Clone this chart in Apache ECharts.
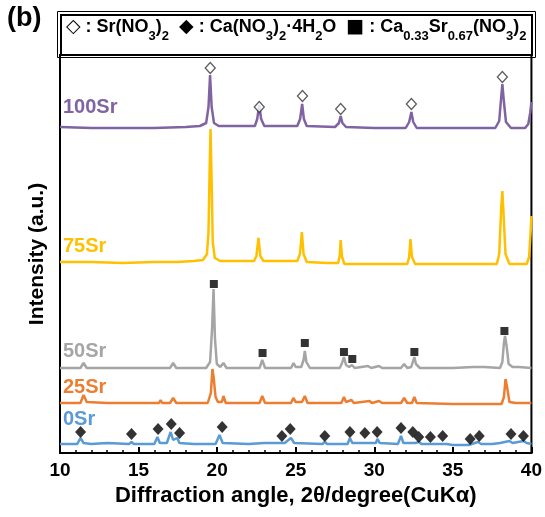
<!DOCTYPE html>
<html><head><meta charset="utf-8">
<script src="https://cdn.jsdelivr.net/npm/echarts@6/dist/echarts.min.js"></script>
<style>html,body{margin:0;padding:0;background:#fff}#c{width:545px;height:517px}</style>
</head><body><div id="c"></div>
<script>
// ---- data ----
const xTicks = [10, 15, 20, 25, 30, 35, 40];
const sampleNames = ['0Sr', '25Sr', '50Sr', '75Sr', '100Sr'];
const sampleColors = ['#5B9BD5', '#ED7D31', '#A5A5A5', '#FFC000', '#8064A2'];
const baselines = [9, 50, 85, 191, 326];

// [2theta, intensity above baseline]
const xrd0Sr = [[10,0],[11.1,0],[11.3,6],[11.5,1],[12,0],[13,1],[14.4,0],[14.55,2],[14.7,0],[15.4,0],[15.5,2],[15.6,0],[16.0,0],[16.2,7],[16.35,1],[16.8,1],[17.04,12],[17.2,4],[17.46,6],[17.6,1],[18.5,0],[19.9,0],[20.15,9],[20.35,1],[22,0],[23,1],[24,1],[24.1,2],[24.3,1],[24.7,6],[24.9,1],[26.7,0],[26.85,2],[27,0],[28.3,0],[28.45,6],[28.6,1],[29.3,1],[29.4,3],[29.55,1],[30.1,1],[30.2,5],[30.35,1],[31.5,0],[31.7,8],[31.85,1],[32.35,1],[32.45,3],[32.6,1],[32.85,2],[33.0,0],[33.5,0],[33.6,1],[33.8,0],[34.3,0],[34.4,2],[34.6,0],[35,-1],[36,-1],[36.2,0],[36.6,2],[36.8,0],[37.5,0],[38.0,1],[38.6,3],[38.8,1],[39.5,3],[39.7,1],[40,0]];
const xrd25Sr = [[10,0],[11.3,0],[11.5,8],[11.7,1],[13,0],[14.5,0],[16.3,0],[16.4,3],[16.5,0],[17.0,0],[17.2,5],[17.4,0],[19.4,0],[19.6,10],[19.7,34],[19.78,25],[19.9,6],[20.05,1],[20.3,1],[20.4,7],[20.55,0],[22.7,0],[22.87,7],[23.05,0],[24.7,0],[24.85,5],[25.0,1],[25.4,1],[25.58,7],[25.75,0],[27.9,0],[28.07,6],[28.2,1],[28.55,3],[28.7,0],[29.7,2],[29.85,0],[30.3,2],[30.5,0],[31.7,0],[31.9,5],[32.1,0],[32.4,0],[32.55,6],[32.7,0],[35,-1],[37,-1],[38.1,-1],[38.25,6],[38.35,24],[38.45,16],[38.6,1],[39,0],[40,0]];
const xrd50Sr = [[10,0],[11.3,0],[11.5,5],[11.7,0],[13,0],[15,0],[16.3,0],[16.4,2],[16.5,0],[17.0,0],[17.2,5],[17.4,0],[19.3,0],[19.55,6],[19.68,40],[19.77,79],[19.86,30],[19.98,4],[20.2,1],[20.4,5],[20.6,0],[22.7,0],[22.87,8],[23.05,0],[24.7,0],[24.86,5],[25.0,1],[25.35,1],[25.5,8],[25.58,17],[25.68,6],[25.9,0],[27.8,0],[27.95,5],[28.07,11],[28.2,3],[28.4,1],[28.58,3],[28.75,0],[29.6,2],[29.8,0],[30.3,2],[30.5,0],[31.7,0],[31.9,4],[32.1,0],[32.35,1],[32.47,7],[32.55,11],[32.65,4],[32.9,0],[35,0],[36.3,1],[37,1],[38.0,0],[38.15,6],[38.25,25],[38.32,32],[38.42,22],[38.55,4],[38.8,1],[39.2,1],[40,0]];
const xrd75Sr = [[10,0],[12,0],[14,-1],[16,0],[17.5,0],[18.5,1],[19.1,2],[19.35,8],[19.45,30],[19.52,90],[19.58,133],[19.65,80],[19.72,20],[19.85,4],[20.2,1],[21,1],[22.35,1],[22.5,6],[22.63,24],[22.75,6],[22.95,1],[24,1],[25.1,1],[25.27,8],[25.39,30],[25.5,8],[25.7,0],[27,-1],[27.7,-1],[27.8,6],[27.86,22],[27.95,5],[28.1,-2],[30,-2],[32.1,-2],[32.22,5],[32.3,23],[32.4,5],[32.6,-2],[35,-2],[37.8,-2],[37.95,8],[38.08,55],[38.15,71],[38.22,50],[38.35,8],[38.6,-2],[39.7,-2],[39.85,5],[39.95,30],[40,46]];
const xrd100Sr = [[10,0],[12,-1],[14,-1],[16,-1],[18,0],[18.9,1],[19.3,4],[19.45,20],[19.55,52],[19.65,20],[19.8,4],[20.1,1],[21,1],[22.4,1],[22.55,8],[22.68,22],[22.8,8],[23.0,1],[24,1],[25.1,1],[25.28,8],[25.41,23],[25.52,8],[25.7,1],[27.5,0],[27.75,4],[27.86,11],[27.97,4],[28.2,0],[30,-1],[32.0,-1],[32.22,5],[32.36,15],[32.48,5],[32.7,-1],[35,-1],[37.7,-1],[37.95,6],[38.05,25],[38.15,43],[38.25,25],[38.38,5],[38.7,-1],[39.6,-1],[39.8,3],[39.92,14],[40,25]];
const xrdSets = [xrd0Sr, xrd25Sr, xrd50Sr, xrd75Sr, xrd100Sr];

// phase markers [2theta, absolute height]
const markSrNO3 = [[19.56,385],[22.68,346],[25.43,357],[27.86,344],[32.36,349],[38.15,376]];
const markCaNO3 = [[11.31,21],[14.55,19],[16.24,24],[17.08,29],[17.61,20],[20.32,26],[24.12,17],[24.65,24],[26.85,17],[28.45,21],[29.4,20],[30.18,21],[31.7,25],[32.45,21],[32.83,16],[33.57,16],[34.35,17],[36.1,14],[36.68,17],[38.7,19],[39.49,17]];
const markCaSr = [[19.79,169],[22.89,100],[25.58,110],[28.07,101],[28.6,94],[32.55,101],[38.28,122]];

// ---- chart ----
const F = '"Liberation Sans", Arial, Helvetica, sans-serif';
const chart = echarts.init(document.getElementById('c'), null, {renderer: 'canvas'});

const lineSeries = xrdSets.map((arr, i) => ({
  type: 'line', name: sampleNames[i], showSymbol: false, silent: true,
  data: arr.map(p => [p[0], p[1] + baselines[i]]),
  lineStyle: {color: sampleColors[i], width: 2.5}, z: 2
}));

const labelTops = [409, 377, 341, 236, 97];
const labelGraphics = sampleNames.map((n, i) => ({
  type: 'text', left: 63, top: labelTops[i],
  style: {text: n, fill: sampleColors[i], font: 'bold 20px ' + F}
}));

const option = {
  animation: false,
  backgroundColor: '#fff',
  grid: {left: 60, right: 12, top: 55, bottom: 64, show: true, borderColor: '#000', borderWidth: 2},
  xAxis: {
    type: 'value', min: 10, max: 40, interval: 5,
    name: 'Diffraction angle, 2θ/degree(CuKα)', nameLocation: 'middle', nameGap: 32,
    nameTextStyle: {fontFamily: F, fontWeight: 'bold', fontSize: 22, color: '#000'},
    axisLine: {lineStyle: {color: '#000', width: 2}},
    axisTick: {inside: true, length: 6, lineStyle: {color: '#000', width: 2}},
    minorTick: {show: true, splitNumber: 5, length: 3, lineStyle: {color: '#000', width: 1.5}},
    splitLine: {show: false},
    axisLabel: {fontFamily: F, fontWeight: 'bold', fontSize: 19, color: '#000', margin: 8,
      formatter: v => xTicks.includes(v) ? String(v) : ''}
  },
  yAxis: {
    type: 'value', min: 0, max: 398,
    name: 'Intensity (a.u.)', nameLocation: 'middle', nameGap: 12, nameRotate: 90,
    nameTextStyle: {fontFamily: F, fontWeight: 'bold', fontSize: 21, color: '#000'},
    axisLine: {show: true, lineStyle: {color: '#000', width: 2}},
    axisTick: {show: false}, axisLabel: {show: false}, splitLine: {show: false}
  },
  series: lineSeries.concat([
    {type: 'scatter', data: markSrNO3, symbol: 'diamond', symbolSize: [10, 11], silent: true,
      itemStyle: {color: '#fff', borderColor: '#333', borderWidth: 1.3}, z: 5},
    {type: 'scatter', data: markCaNO3, symbol: 'diamond', symbolSize: [11, 12], silent: true,
      itemStyle: {color: '#000'}, z: 5},
    {type: 'scatter', data: markCaSr, symbol: 'rect', symbolSize: [8, 8], silent: true,
      itemStyle: {color: '#000'}, z: 5}
  ]),
  graphic: [
    {type: 'text', left: 7, top: 5, style: {text: '(b)', fill: '#000', font: 'bold 27px ' + F}},
    {type: 'rect', shape: {x: 57.5, y: 11.5, width: 478, height: 46}, style: {fill: 'none', stroke: '#000', lineWidth: 1}},
    {type: 'rect', shape: {x: 61, y: 15, width: 471, height: 40}, style: {fill: 'none', stroke: '#000', lineWidth: 2}},
    {type: 'text', left: 66, top: 18,
      style: {
        text: '{y|◇}{m| : Sr(NO}{s|3}{m|)}{s|2}{m|  }{y|◆}{m| : Ca(NO}{s|3}{m|)}{s|2}{m|·4H}{s|2}{m|O  }{q|■}{m| : Ca}{s|0.33}{m|Sr}{s|0.67}{m|(NO}{s|3}{m|)}{s|2}',
        rich: {
          m: {fontSize: 18, fontWeight: 'bold', fontFamily: F, lineHeight: 20, verticalAlign: 'top', fill: '#000'},
          y: {fontSize: 19, fontWeight: 'bold', fontFamily: '"DejaVu Sans"', lineHeight: 20, verticalAlign: 'top', fill: '#000'},
          q: {fontSize: 19, fontFamily: '"DejaVu Sans"', lineHeight: 20, verticalAlign: 'top', fill: '#000'},
          s: {fontSize: 13, fontWeight: 'bold', fontFamily: F, lineHeight: 13, padding: [12, 0, 0, 0], verticalAlign: 'top', fill: '#000'}
        }
      }}
  ].concat(labelGraphics)
};
chart.setOption(option);
</script></body></html>
